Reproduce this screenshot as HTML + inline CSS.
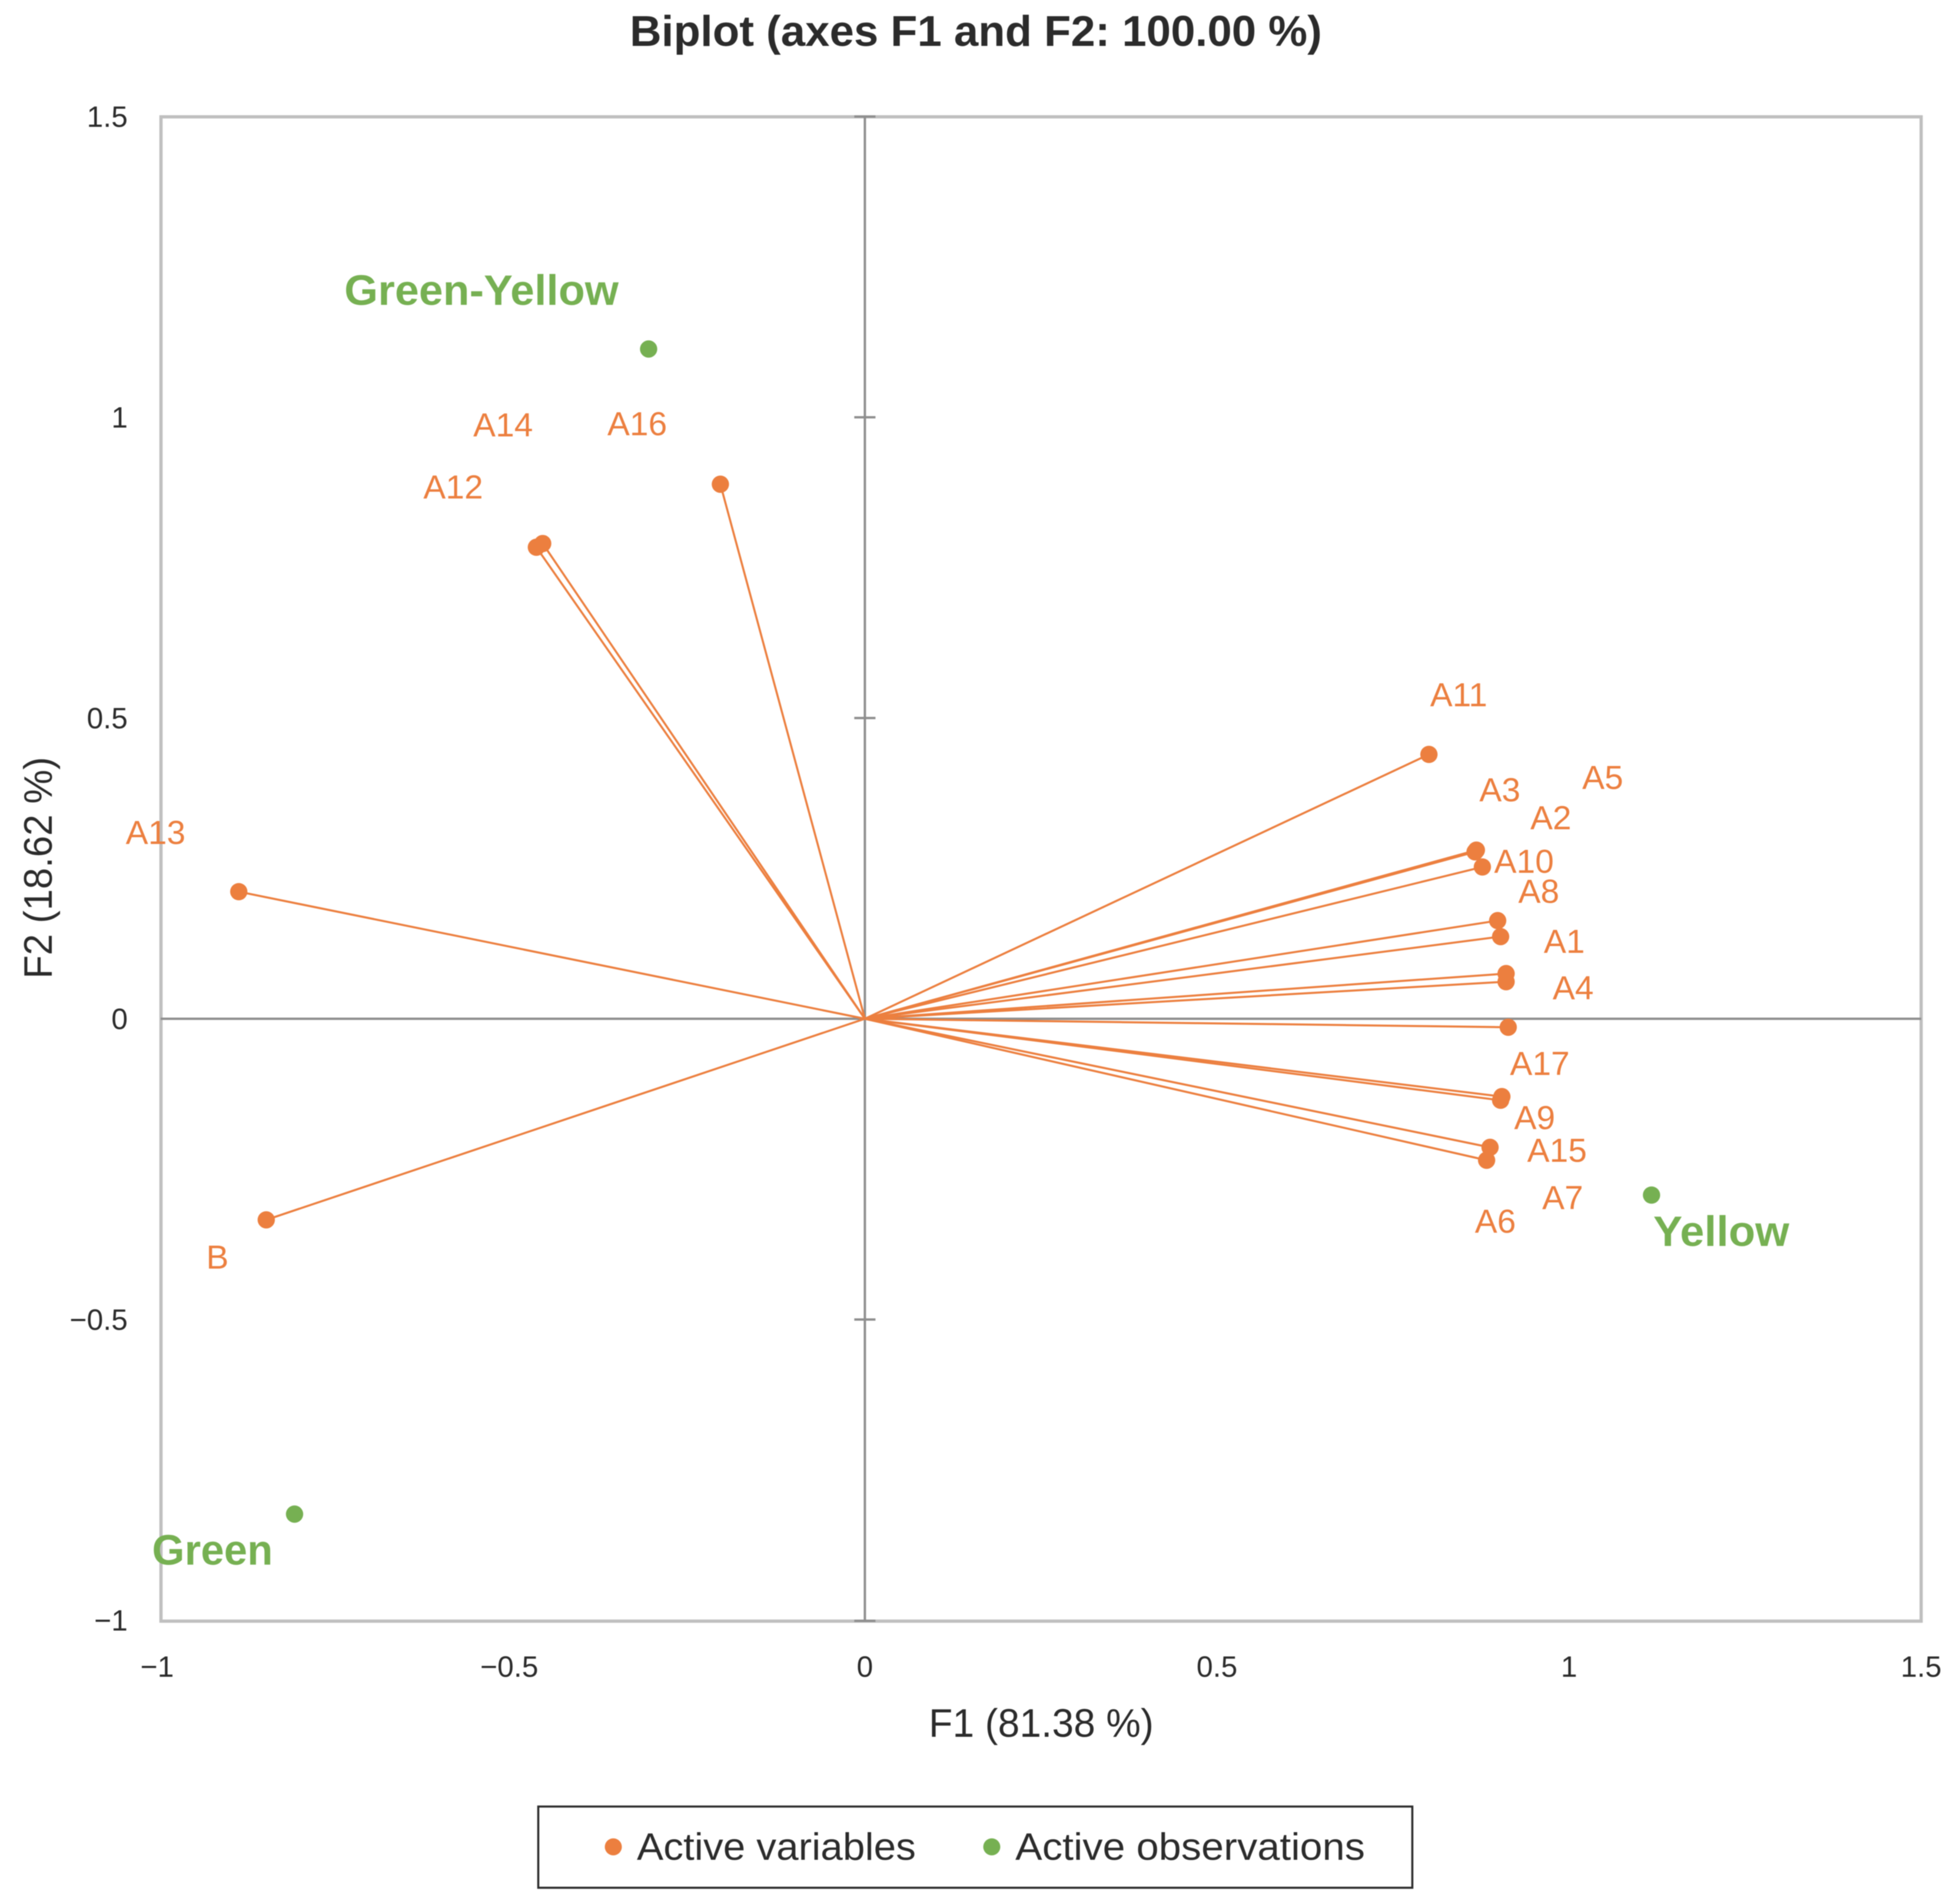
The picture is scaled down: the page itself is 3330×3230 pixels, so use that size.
<!DOCTYPE html>
<html lang="en">
<head>
<meta charset="utf-8">
<title>Biplot (axes F1 and F2: 100.00 %)</title>
<style>
html,body{margin:0;padding:0;background:#fff;overflow:hidden;}
svg{display:block;filter:blur(0.7px);}
text{font-family:"Liberation Sans",sans-serif;}
</style>
</head>
<body>
<svg id="chart" xmlns="http://www.w3.org/2000/svg" width="3330" height="3230" viewBox="0 0 3330 3230">
  <rect x="0" y="0" width="3330" height="3230" fill="#ffffff"/>
  <text x="1070" y="78" font-size="73" font-weight="700" fill="#2b2b2b" textLength="1176" lengthAdjust="spacingAndGlyphs">Biplot (axes F1 and F2: 100.00 %)</text>
  <rect x="273.5" y="198.5" width="2990.5" height="2556" fill="none" stroke="#bfbfbf" stroke-width="5.5"/>
  <g id="axes"></g>
  <g id="ticks"></g>
  <g id="vectors"></g>
  <g id="points"></g>
  <g id="labels"></g>
  <text x="1578" y="2951" font-size="68" fill="#2b2b2b" textLength="382" lengthAdjust="spacingAndGlyphs">F1 (81.38 %)</text>
  <text transform="translate(88 1663) rotate(-90)" x="0" y="0" font-size="68" fill="#2b2b2b" textLength="377" lengthAdjust="spacingAndGlyphs">F2 (18.62 %)</text>
  <g>
    <rect x="914.5" y="3069.5" width="1485" height="138" fill="#ffffff" stroke="#2b2b2b" stroke-width="3.5"/>
    <circle cx="1042" cy="3138" r="14.5" fill="#ec7f3f"/>
    <text x="1082" y="3160" font-size="65" fill="#2b2b2b" textLength="474" lengthAdjust="spacingAndGlyphs">Active variables</text>
    <circle cx="1685" cy="3138" r="14.5" fill="#76b052"/>
    <text x="1725" y="3160" font-size="65" fill="#2b2b2b" textLength="594" lengthAdjust="spacingAndGlyphs">Active observations</text>
  </g>
</svg>
<script>
const xTickValues = [-1, -0.5, 0, 0.5, 1, 1.5];
const yTickValues = [-1, -0.5, 0, 0.5, 1, 1.5];
const variableNames = ["A1","A2","A3","A4","A5","A6","A7","A8","A9","A10","A11","A12","A13","A14","A15","A16","A17","B"];
const variableF1 = [0.9106,0.8769,0.8684,0.9106,0.8665,0.8829,0.8878,0.9028,0.9028,0.8986,0.801,-0.4665,-0.8891,-0.4575,0.9046,-0.2052,0.9136,-0.8501];
const variableF2 = [0.0751,0.2524,0.2804,0.0616,0.2775,-0.2352,-0.2138,0.1366,-0.1355,0.1632,0.4395,0.7839,0.2113,0.7901,-0.1294,0.8887,-0.0141,-0.3343];
const observationNames = ["Green","Green-Yellow","Yellow"];
const observationF1 = [-0.8099,-0.3071,1.1171];
const observationF2 = [-0.8235,1.1135,-0.2931];

(function () {
  const NS = "http://www.w3.org/2000/svg";
  const xScale = v => 1469.4 + v * 1196.4;
  const yScale = v => 1731 - v * 1022;
  const orange = "#ec7f3f", green = "#76b052", axisGrey = "#8f8f8f", ink = "#2b2b2b";

  function make(tag, parent, props, content) {
    const el = document.createElementNS(NS, tag);
    for (const k in props) el.setAttribute(k, props[k]);
    if (content !== undefined) el.textContent = content;
    parent.appendChild(el);
    return el;
  }
  const slug = s => String(s).toLowerCase().replace(/[^a-z0-9]+/g, "-").replace(/^-|-$/g, "");
  const fmt = v => String(v).replace("-", "\u2212");

  const axes = document.getElementById("axes");
  const ticks = document.getElementById("ticks");
  const vectors = document.getElementById("vectors");
  const points = document.getElementById("points");
  const labels = document.getElementById("labels");

  const xAxis = make("line", axes, {x1: xScale(-1), x2: xScale(1.5), y1: yScale(0), y2: yScale(0), stroke: axisGrey, "stroke-width": 4});
  
  
  const yAxis = make("line", axes, {x1: xScale(0), x2: xScale(0), y1: yScale(-1), y2: yScale(1.5), stroke: axisGrey, "stroke-width": 4});
  
  

  yTickValues.forEach(v => {
    const edge = v === -1 ? 1 : 0;
    const mark = make("line", axes, {x1: xScale(0) - 18, x2: xScale(0) + 18, y1: yScale(v) + edge, y2: yScale(v) + edge, stroke: axisGrey, "stroke-width": 4});
    
    
    const t = make("text", ticks, {x: 217, y: yScale(v) + 17.5, "text-anchor": "end", "font-size": 50, fill: ink}, fmt(v));
    
    
  });
  xTickValues.forEach(v => {
    const t = make("text", ticks, {x: xScale(v) - (v < 0 ? 6 : 0), y: 2849, "text-anchor": "middle", "font-size": 50, fill: ink}, fmt(v));
    
    
  });

  const variableNudge = {
    A1:[64,-35], A2:[81.5,-64], A3:[5,-83], A4:[79,30], A5:[182,-107], A6:[-20,123],
    A7:[88.5,105], A8:[30,-57.5], A9:[23,49], A10:[-6,-81], A11:[2,-82], A12:[-192,-83],
    A13:[-192,-81], A14:[-118,-182], A15:[43,111], A16:[-192,-83], A17:[3,81], B:[-102,83]
  };
  const observationNudge = {"Green":[-242,86,205], "Green-Yellow":[-517,-75,466], "Yellow":[3,86.5,231]};

  variableNames.forEach((name, i) => {
    const px = xScale(variableF1[i]), py = yScale(variableF2[i]);
    const id = slug(name);
    const ln = make("line", vectors, {x1: xScale(0), y1: yScale(0), x2: px, y2: py, stroke: orange, "stroke-width": 3.5});
    
    
    const c = make("circle", points, {cx: px, cy: py, r: 14.7, fill: orange});
    
    
    const n = variableNudge[name];
    const t = make("text", labels, {x: px + n[0], y: py + n[1], "font-size": 57, fill: orange}, name);
    
    
  });

  observationNames.forEach((name, i) => {
    const px = xScale(observationF1[i]), py = yScale(observationF2[i]);
    const id = slug(name);
    const c = make("circle", points, {cx: px, cy: py, r: 14.7, fill: green});
    
    
    const n = observationNudge[name];
    const t = make("text", labels, {x: px + n[0], y: py + n[1], "font-size": 72, "font-weight": 700, fill: green, textLength: n[2], lengthAdjust: "spacingAndGlyphs"}, name);
    
    
  });
})();
</script>
</body>
</html>
